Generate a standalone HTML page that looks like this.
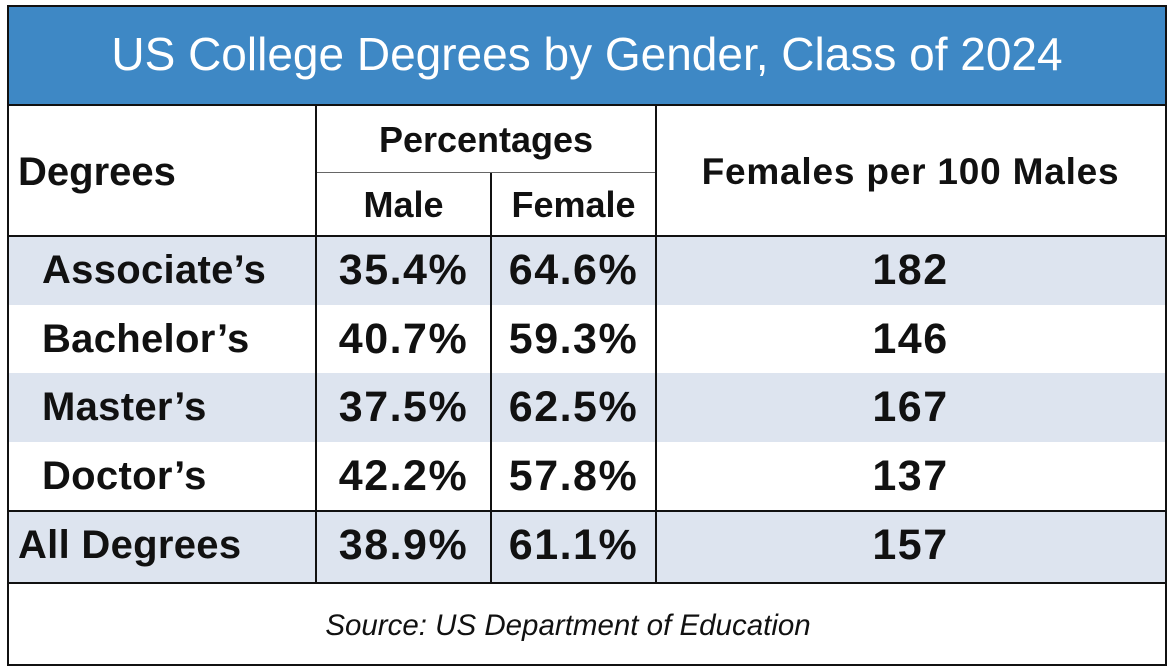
<!DOCTYPE html>
<html><head><meta charset="utf-8"><style>
body{margin:0;width:1172px;height:670px;background:#fff;font-family:"Liberation Sans",sans-serif;position:relative;overflow:hidden}
div{position:absolute;box-sizing:border-box}
.t{color:#111;white-space:nowrap;text-align:center}
.bg{background:#dde4ef}
.v{background:#111;width:2px}
.h{background:#111;height:2px}
</style></head><body>
<div style="left:7px;top:5px;width:1160px;height:661px;border:2px solid #111"></div>
<div style="left:9px;top:7px;width:1156px;height:98px;background:#3e88c5"></div>
<div class="t" style="left:9px;top:27px;width:1156px;color:#fff;font-size:46px">US College Degrees by Gender, Class of 2024</div>
<div class="h" style="left:9px;top:104px;width:1156px"></div>
<div class="bg" style="left:9px;top:236px;width:1156px;height:69px"></div>
<div class="bg" style="left:9px;top:373px;width:1156px;height:69px"></div>
<div class="bg" style="left:9px;top:511px;width:1156px;height:72px"></div>
<div class="h" style="left:9px;top:235px;width:1156px"></div>
<div class="h" style="left:316px;top:172px;width:340px;height:1px;background:#666"></div>
<div class="h" style="left:9px;top:510px;width:1156px"></div>
<div class="h" style="left:9px;top:582px;width:1156px"></div>
<div class="v" style="left:315px;top:105px;height:478px"></div>
<div class="v" style="left:490px;top:173px;height:410px"></div>
<div class="v" style="left:655px;top:105px;height:478px"></div>
<div class="t" style="left:18px;top:150px;font-size:40px;font-weight:bold;text-align:left">Degrees</div>
<div class="t" style="left:316px;top:119px;width:340px;font-size:36px;font-weight:bold">Percentages</div>
<div class="t" style="left:316px;top:184px;width:175px;font-size:36px;font-weight:bold">Male</div>
<div class="t" style="left:491px;top:184px;width:165px;font-size:36px;font-weight:bold">Female</div>
<div class="t" style="left:656px;top:151px;width:509px;font-size:37px;font-weight:bold;letter-spacing:0.8px">Females per 100 Males</div>
<div class="t" style="left:-10px;top:609px;width:1156px;font-size:29.5px;font-style:italic">Source: US Department of Education</div>
<script>
const degrees=["Associate’s","Bachelor’s","Master’s","Doctor’s","All Degrees"];
const male=["35.4%","40.7%","37.5%","42.2%","38.9%"];
const female=["64.6%","59.3%","62.5%","57.8%","61.1%"];
const ratio=["182","146","167","137","157"];
const tops=[236,305,373,442,511];
const body=document.body;
function cell(txt,l,w,t,name,extra){
  const d=document.createElement('div');
  d.className='t';
  
  
  d.style.cssText=`left:${l}px;top:${t}px;width:${w}px;font-size:43px;font-weight:bold;letter-spacing:1.5px;${extra||''}`;
  d.textContent=txt;body.appendChild(d);
}
degrees.forEach((g,i)=>{
  const t=tops[i]+10;
  cell(g,i==4?18:42,290,t,'degree-label',"text-align:left;font-size:40px;letter-spacing:0.3px;top:"+(t+2)+"px");
  cell(male[i],316,175,t,'male-value');
  cell(female[i],491,165,t,'female-value');
  cell(ratio[i],656,509,t,'ratio-value');
});
</script>
</body></html>
